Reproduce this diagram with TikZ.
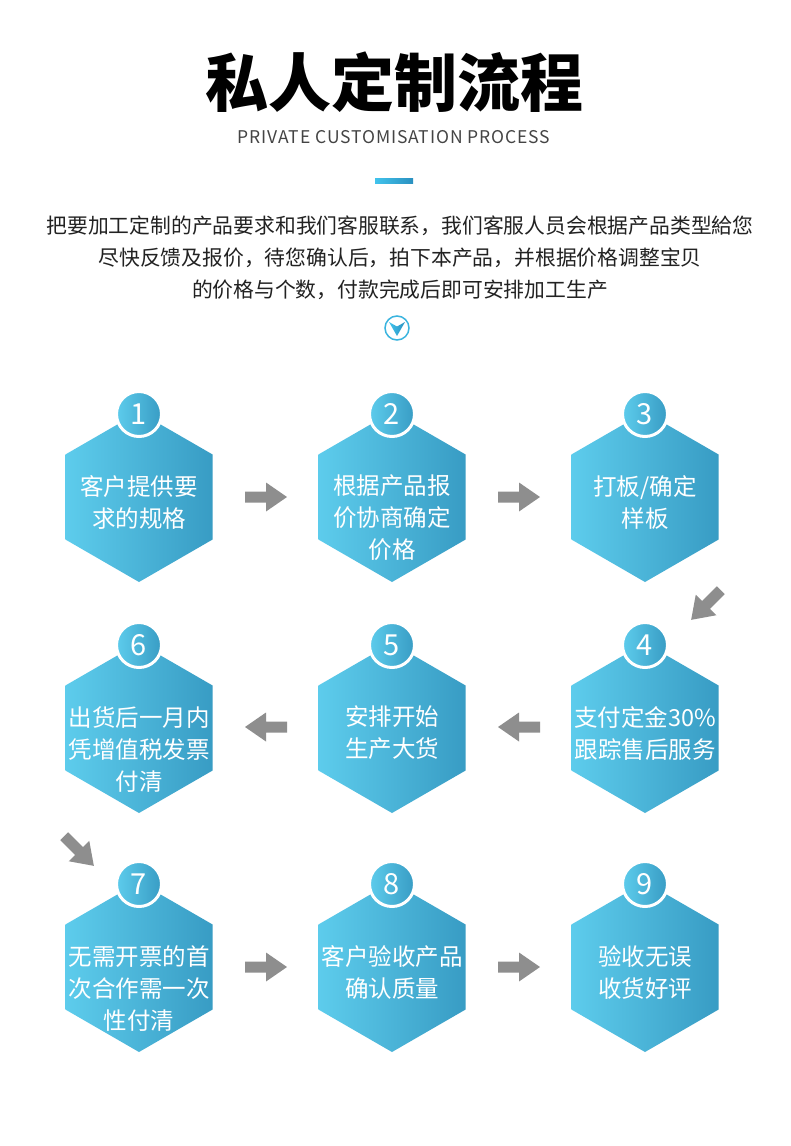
\documentclass[tikz,border=0pt]{standalone}
\usepackage{fontspec}
\setmainfont{Noto Sans CJK SC}
\usepackage{xcolor}
\usepackage{tikz}

\definecolor{hexlight}{HTML}{5DCCEC}
\definecolor{hexdark}{HTML}{389CC4}
\definecolor{barlight}{HTML}{41C3EC}
\definecolor{bardark}{HTML}{2A90C0}
\definecolor{arrowgray}{HTML}{8E8E8E}
\definecolor{bodytext}{HTML}{222222}
\definecolor{subtext}{HTML}{444444}

\tikzset{
  steptext/.style={text=white, font=\fontsize{23.5}{32}\selectfont, align=center, anchor=north, inner sep=0pt},
  stepnum/.style={text=white, font=\fontsize{29}{29}\selectfont, inner sep=0pt},
}

% gray block arrow: x, y, angle
\newcommand{\grayarrow}[3]{%
  \fill[arrowgray, shift={(#1,#2)}, rotate=#3] (-21,-5.5) -- (0,-5.5) -- (0,-14.5) -- (21,0) -- (0,14.5) -- (0,5.5) -- (-21,5.5) -- cycle;}

\begin{document}
\begin{tikzpicture}[x=1pt, y=-1pt]
\fill[white] (0,0) rectangle (790,1146);
\useasboundingbox (0,0) rectangle (790,1146);
% heading
\node[font=\fontsize{63}{63}\selectfont\bfseries] (title) at (394,82) {私人定制流程};
\node[text=subtext, font=\fontsize{17.5}{17.5}\selectfont\addfontfeature{LetterSpace=5}] (subtitle) at (394,137) {PRIVATE CUSTOMISATION PROCESS};
\shade[left color=barlight, right color=bardark] (375,178) rectangle (413,183);
\node[text=bodytext, font=\fontsize{20.8}{32}\selectfont, align=center] (intro) at (400,258)
  {把要加工定制的产品要求和我们客服联系，我们客服人员会根据产品类型給您\\
   尽快反馈及报价，待您确认后，拍下本产品，并根据价格调整宝贝\\
   的价格与个数，付款完成后即可安排加工生产};
% round chevron below the text
\draw[barlight!70!bardark, line width=1.5pt] (397,328) circle (12);
\shade[left color=barlight, right color=bardark] (389,322) -- (397,326.5) -- (405,322) -- (397,336) -- cycle;
% the nine steps
\foreach \n/\x/\y/\txt in {1/139/497/{客户提供要\\求的规格}, 2/392/497/{根据产品报\\价协商确定\\价格}, 3/645/497/{打板/确定\\样板},
    4/645/728/{支付定金30\%\\跟踪售后服务}, 5/392/728/{安排开始\\生产大货}, 6/139/728/{出货后一月内\\凭增值税发票\\付清},
    7/139/967/{无需开票的首\\次合作需一次\\性付清}, 8/392/967/{客户验收产品\\确认质量}, 9/645/967/{验收无误\\收货好评}} {
  \shade[left color=hexlight, right color=hexdark] (\x,\y) +(90:85) -- +(30:85) -- +(-30:85) -- +(-90:85) -- +(-150:85) -- +(150:85) -- cycle;
  \shadedraw[left color=hexlight, right color=hexdark, draw=white, line width=3pt] (\x,\y-83) circle (22.5);
  \node[stepnum] (n\n) at (\x,\y-83) {\n};
  \node[steptext] (t\n) at (\x,\y-22) {\txt};
}
% arrows between the steps
\grayarrow{266}{497}{0}
\grayarrow{519}{497}{0}
\grayarrow{706}{605}{225}
\grayarrow{519}{727}{180}
\grayarrow{266}{727}{180}
\grayarrow{79}{851}{315}
\grayarrow{266}{967}{0}
\grayarrow{519}{967}{0}
\end{tikzpicture}
\end{document}
